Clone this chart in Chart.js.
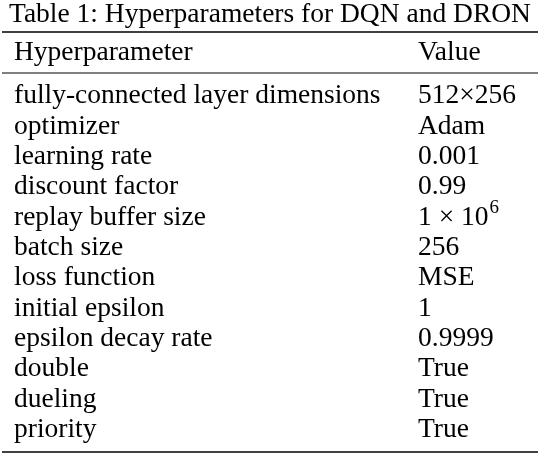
<!DOCTYPE html>
<html><head><meta charset="utf-8">
<script src="https://cdn.jsdelivr.net/npm/chart.js@4"></script>
<style>html,body{margin:0;background:#fff}#w{width:540px;height:456px}</style>
</head><body><div id="w"><canvas id="c"></canvas></div>
<script>
const title = "Table 1: Hyperparameters for DQN and DRON";
const headers = ["Hyperparameter", "Value"];
const params = ["fully-connected layer dimensions","optimizer","learning rate","discount factor","replay buffer size","batch size","loss function","initial epsilon","epsilon decay rate","double","dueling","priority"];
const values = ["512\u00d7256","Adam","0.001","0.99","1 \u00d7 10^6","256","MSE","1","0.9999","True","True","True"];
const FONT = '"Liberation Serif", "DejaVu Serif", serif';
const tablePlugin = {
  id: 'table',
  afterDraw(chart) {
    const ctx = chart.ctx, y = chart.scales.y, W = chart.width;
    ctx.save();
    ctx.fillStyle = '#000'; ctx.strokeStyle = '#000';
    ctx.textBaseline = 'middle';
    ctx.font = '27.5px ' + FONT;
    ctx.textAlign = 'center';
    ctx.fillText(title, W/2, 15);
    ctx.textAlign = 'left';
    ctx.font = '27.5px ' + FONT;
    ctx.fillText(headers[0], 14, 53);
    ctx.fillText(headers[1], 418, 53);
    const line = (yy, lw) => { ctx.lineWidth = lw; ctx.beginPath(); ctx.moveTo(2, yy); ctx.lineTo(W-2, yy); ctx.stroke(); };
    line(32, 1.6); line(73, 1); line(452, 1.6);
    params.forEach((p, i) => {
      const py = y.getPixelForValue(i);
      ctx.font = '27.5px ' + FONT;
      ctx.fillText(p, 14, py);
      const v = values[i];
      if (v.includes('^')) {
        const [b, e] = v.split('^');
        ctx.fillText(b, 418, py);
        const bw = ctx.measureText(b).width;
        ctx.font = '19px ' + FONT;
        ctx.fillText(e, 418 + bw + 1, py - 9);
      } else ctx.fillText(v, 418, py);
    });
    ctx.restore();
  }
};
new Chart(document.getElementById('c'), {
  type: 'bar',
  data: { labels: params, datasets: [{ data: params.map(() => 0) }] },
  options: {
    indexAxis: 'y', responsive: true, maintainAspectRatio: false, animation: false,
    layout: { padding: { top: 81, bottom: 11, left: 0, right: 0 } },
    plugins: { legend: { display: false }, tooltip: { enabled: false } },
    scales: { y: { display: false, offset: true }, x: { display: false } }
  },
  plugins: [tablePlugin]
});
</script></body></html>
